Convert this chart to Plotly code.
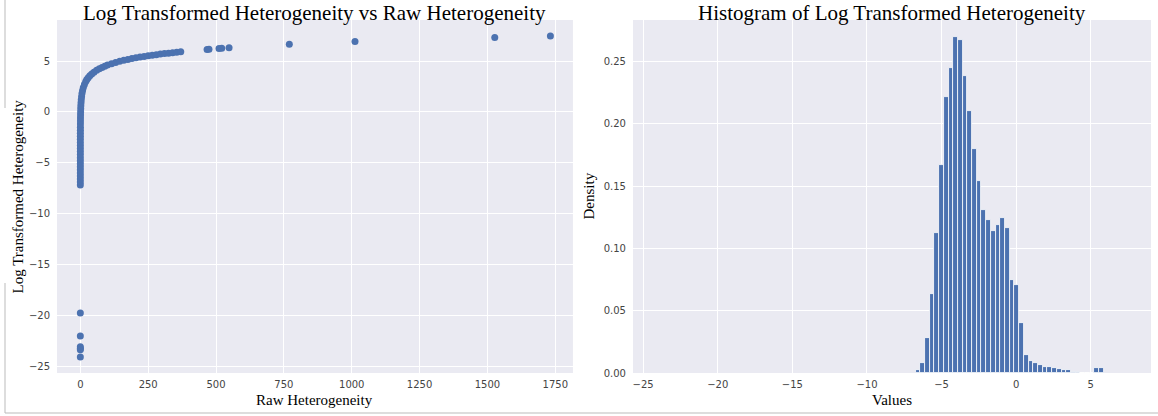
import plotly.graph_objects as go

# ---------------- data ----------------
raw_het = [
    2.6e-9, 2.7e-10, 9.3e-11, 8.0e-11, 6.9e-11, 3.4e-11,
    0.00075, 0.001, 0.0014, 0.0018, 0.0025, 0.0033, 0.0045, 0.0061, 0.0082,
    0.011, 0.015, 0.020, 0.027, 0.037, 0.050, 0.067, 0.091, 0.12, 0.17,
    0.22, 0.30, 0.41, 0.55, 0.74, 1.0, 1.35, 1.8, 2.5, 3.3, 4.5, 6.0, 8.2,
    11, 15, 20, 24, 29, 35, 42, 50, 60, 70, 80, 90, 100, 115, 130, 145,
    160, 175, 190, 205, 220, 235, 250, 265, 280, 295, 310, 325, 340, 355,
    370, 467, 474, 511, 521, 548, 770, 1012, 1527, 1732,
]
log_het = [
    -19.77, -22.03, -23.10, -23.26, -23.39, -24.10,
    -7.2, -6.9, -6.6, -6.3, -6.0, -5.7, -5.4, -5.1, -4.8,
    -4.5, -4.2, -3.9, -3.6, -3.3, -3.0, -2.7, -2.4, -2.1, -1.8,
    -1.5, -1.2, -0.9, -0.6, -0.3, 0.0, 0.3, 0.6, 0.9, 1.2, 1.5, 1.8, 2.1,
    2.4, 2.7, 3.0, 3.18, 3.37, 3.56, 3.74, 3.91, 4.09, 4.25, 4.38, 4.50,
    4.61, 4.74, 4.87, 4.98, 5.08, 5.16, 5.25, 5.32, 5.39, 5.46, 5.52,
    5.58, 5.63, 5.69, 5.74, 5.78, 5.83, 5.87, 5.91,
    6.15, 6.16, 6.24, 6.26, 6.31, 6.65, 6.92, 7.33, 7.46,
]

# histogram: 100 equal bins between the min and max of the log values
hist_min = -24.10
hist_max = 7.46
hist_bins = 100
hist_first_bin = 55          # index of the first bin listed below
hist_density = [
    0.0022, 0.0083, 0.0280, 0.0637, 0.1124, 0.1669, 0.2215, 0.2446, 0.2699,
    0.2677, 0.2387, 0.2105, 0.1798, 0.1543, 0.1312, 0.1226, 0.1140, 0.1185,
    0.1245, 0.1161, 0.0745, 0.0707, 0.0401, 0.0148, 0.0094, 0.0081, 0.0065,
    0.0052, 0.0047, 0.0039, 0.0031, 0.0025, 0.0023, 0.0012, 0.0011,
    0.0, 0.0, 0.0, 0.0043, 0.0043,
]

left_xticks = [0, 250, 500, 750, 1000, 1250, 1500, 1750]
left_yticks = [-25, -20, -15, -10, -5, 0, 5]
right_xticks = [-25, -20, -15, -10, -5, 0, 5]
right_yticks = [0.0, 0.05, 0.10, 0.15, 0.20, 0.25]

title_left = "Log Transformed Heterogeneity vs Raw Heterogeneity"
title_right = "Histogram of Log Transformed Heterogeneity"
xlabel_left = "Raw Heterogeneity"
ylabel_left = "Log Transformed Heterogeneity"
xlabel_right = "Values"
ylabel_right = "Density"

# ---------------- figure ----------------
BLUE = "#4C72B0"
BG = "#EAEAF2"
SERIF = "Liberation Serif, Times New Roman, serif"
SANS = "DejaVu Sans, sans-serif"

bin_w = (hist_max - hist_min) / hist_bins
bin_centers = [hist_min + (hist_first_bin + i + 0.5) * bin_w for i in range(len(hist_density))]

fig = go.Figure()
fig.add_trace(go.Scatter(
    x=raw_het, y=log_het, mode="markers",
    marker=dict(color=BLUE, size=7, line=dict(width=0)),
    xaxis="x", yaxis="y", showlegend=False,
))
fig.add_trace(go.Bar(
    x=bin_centers, y=hist_density, width=bin_w,
    marker=dict(color=BLUE, line=dict(color="white", width=0.8)),
    xaxis="x2", yaxis="y2", showlegend=False,
))

L, R, T, B = 57, 7, 20, 43
W, H = 1158, 416
pw = W - L - R
ph = H - T - B

axis_common = dict(
    showgrid=True, gridcolor="white", gridwidth=1, zeroline=False,
    showline=False, ticks="", tickfont=dict(family=SANS, size=10, color="#444"),
)

fig.update_layout(
    width=W, height=H,
    margin=dict(l=L, r=R, t=T, b=B),
    paper_bgcolor="white", plot_bgcolor=BG,
    bargap=0,
    xaxis=dict(domain=[0, 0.4716], range=[-86, 1815], tickvals=left_xticks,
               ticklabelstandoff=4, **axis_common),
    yaxis=dict(domain=[0, 1], range=[-25.68, 9.04], tickvals=left_yticks,
               ticklabelstandoff=6, **axis_common),
    xaxis2=dict(domain=[0.5265, 1], range=[-25.68, 9.04], tickvals=right_xticks,
                anchor="y2", ticklabelstandoff=4, **axis_common),
    yaxis2=dict(domain=[0, 1], range=[0, 0.2835], tickvals=right_yticks,
                tickformat=".2f", anchor="x2", ticklabelstandoff=6, **axis_common),
)

# titles and axis labels
def px_x(px):
    return (px - L) / pw

def px_y(py):
    return (H - B - py) / ph

ann = []
ann.append(dict(text=title_left, x=0.4716 / 2, y=px_y(0), xref="paper", yref="paper",
                xanchor="center", yanchor="top", showarrow=False, borderpad=0,
                font=dict(family=SERIF, size=21, color="black")))
ann.append(dict(text=title_right, x=(0.5265 + 1) / 2, y=px_y(0), xref="paper", yref="paper",
                xanchor="center", yanchor="top", showarrow=False, borderpad=0,
                font=dict(family=SERIF, size=21, color="black")))
ann.append(dict(text=xlabel_left, x=0.4716 / 2, y=px_y(400), xref="paper", yref="paper",
                xanchor="center", yanchor="middle", showarrow=False,
                font=dict(family=SERIF, size=15, color="black")))
ann.append(dict(text=xlabel_right, x=(0.5265 + 1) / 2, y=px_y(400), xref="paper", yref="paper",
                xanchor="center", yanchor="middle", showarrow=False,
                font=dict(family=SERIF, size=15, color="black")))
ann.append(dict(text=ylabel_left, x=px_x(17), y=0.5, xref="paper", yref="paper",
                xanchor="center", yanchor="middle", textangle=-90, showarrow=False,
                font=dict(family=SERIF, size=15, color="black")))
ann.append(dict(text=ylabel_right, x=px_x(588), y=0.5, xref="paper", yref="paper",
                xanchor="center", yanchor="middle", textangle=-90, showarrow=False,
                font=dict(family=SERIF, size=15, color="black")))
fig.update_layout(annotations=ann)

# thin frame lines visible in the reference screenshot
frame = dict(type="line", xref="paper", yref="paper", line=dict(color="#BBBBBB", width=1))
fig.add_shape(x0=px_x(5), x1=px_x(5), y0=px_y(0), y1=px_y(108), **frame)
fig.add_shape(x0=px_x(5), x1=px_x(5), y0=px_y(283), y1=px_y(413), **frame)
fig.add_shape(x0=px_x(5), x1=px_x(1158), y0=px_y(413), y1=px_y(413), **frame)

fig.write_html("out.html")
